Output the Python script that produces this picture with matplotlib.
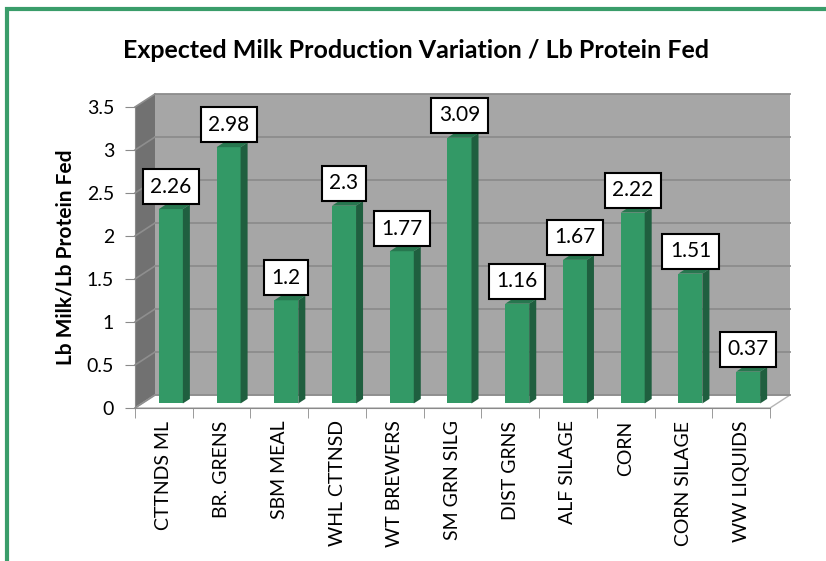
import matplotlib.pyplot as plt
import numpy as np
from matplotlib.patches import Polygon, Rectangle
from matplotlib.transforms import ScaledTranslation, IdentityTransform

categories = ['CTTNDS ML', 'BR. GRENS', 'SBM MEAL', 'WHL CTTNSD', 'WT BREWERS',
              'SM GRN SILG', 'DIST GRNS', 'ALF SILAGE', 'CORN', 'CORN SILAGE',
              'WW LIQUIDS']
values = [2.26, 2.98, 1.2, 2.3, 1.77, 3.09, 1.16, 1.67, 2.22, 1.51, 0.37]
y_ticks = [0, 0.5, 1, 1.5, 2, 2.5, 3, 3.5]

plt.rcParams['font.family'] = ['Lato', 'DejaVu Sans']

fig = plt.figure(figsize=(8.26, 5.61), dpi=100)
ax = fig.add_axes([135 / 826, 1 - 408 / 561, 635 / 826, 301 / 561])
n = len(categories)
ax.set_xlim(-0.5, n - 0.5)
ax.set_ylim(0, 3.5)
ax.patch.set_visible(False)
for s in ax.spines.values():
    s.set_visible(False)

# fausse profondeur 3D (en pixels)
DX, DY = 20, 13
d0, d1 = 0.35, 0.7
half_w = 0.208


def pts(x, y, d):
    x, y, d = np.broadcast_arrays(x, y, d)
    p = ax.transData.transform(np.column_stack([x, y]))
    return p + np.column_stack([DX * d, DY * d])


def poly(p, **kw):
    ax.add_patch(Polygon(p, closed=True, transform=IdentityTransform(),
                         clip_on=False, **kw))


left, right = -0.5, n - 0.5
top = y_ticks[-1]

# murs et sol
poly(pts([left] * 4, [0, top, top, 0], [0, 0, 1, 1]), fc='#717171', ec='none', zorder=1)
poly(pts([left, right, right, left], [0, 0, top, top], 1), fc='#a6a6a6', ec='none', zorder=1)
poly(pts([left, right, right, left], 0, [0, 0, 1, 1]), fc='white', ec='#b5b5b5', lw=1, zorder=1)

for t in y_ticks:
    p = pts([left, right], t, 1)
    ax.plot(p[:, 0], p[:, 1], color='#8c8c8c', lw=1.3, transform=IdentityTransform(),
            clip_on=False, zorder=2)
    p = pts([left, left], t, [0, 1])
    ax.plot(p[:, 0], p[:, 1], color='#8e8e8e', lw=1.2, transform=IdentityTransform(),
            clip_on=False, zorder=2)

# barres
front = ax.transData + ScaledTranslation(DX * d0 / 100, DY * d0 / 100, fig.dpi_scale_trans)
ax.bar(range(n), values, width=2 * half_w, color='#339966', transform=front, zorder=3)
for i, v in enumerate(values):
    poly(pts([i + half_w] * 4, [0, v, v, 0], [d0, d0, d1, d1]), fc='#1f5f3f', ec='none', zorder=3)
    poly(pts([i - half_w, i + half_w, i + half_w, i - half_w], v, [d0, d0, d1, d1]),
         fc='#27774f', ec='none', zorder=3)
    ax.annotate(str(v), xy=(i, v), xycoords=front, xytext=(0, 9), textcoords='offset points',
                ha='center', va='bottom', fontsize=15, zorder=5,
                bbox=dict(boxstyle='square,pad=0.36', fc='white', ec='black', lw=1.5))

# axes
ax.spines['left'].set_visible(True)
ax.spines['bottom'].set_visible(True)
ax.spines['left'].set_color('#8a8a8a')
ax.spines['bottom'].set_color('#8a8a8a')
ax.set_yticks(y_ticks)
ax.set_yticklabels([f'{t:g}' for t in y_ticks])
ax.tick_params(axis='y', length=7, color='#8a8a8a', labelsize=14, pad=8)
ax.set_xticks(range(n))
ax.set_xticklabels(categories, rotation=90, fontsize=14)
ax.set_xticks(np.arange(n + 1) - 0.5, minor=True)
ax.tick_params(axis='x', which='major', length=0, pad=9)
ax.tick_params(axis='x', which='minor', length=7, color='#8a8a8a')

fig.text(416 / 826, 1 - 50 / 561, 'Expected Milk Production Variation / Lb Protein Fed',
         ha='center', va='center', fontsize=18, fontweight='bold')
fig.text(66 / 826, 1 - 257 / 561, 'Lb Milk/Lb Protein Fed', rotation=90,
         ha='center', va='center', fontsize=15, fontweight='bold')

fig.patches.append(Rectangle((7.5 / 826, -0.05), 1.0, 1 - 9 / 561 + 0.05,
                             transform=fig.transFigure, fill=False,
                             ec='#3a9d6a', lw=3))

fig.savefig('out.png', dpi=100)
